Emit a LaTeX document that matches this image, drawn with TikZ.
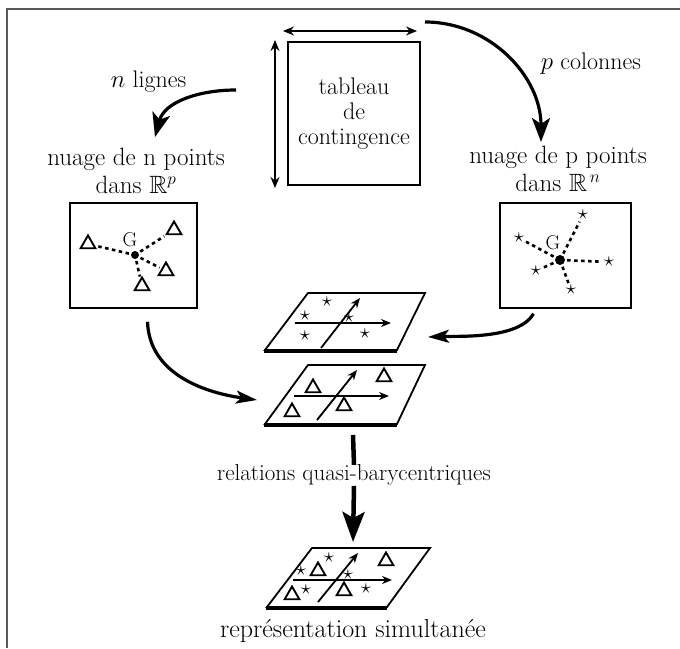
\documentclass[tikz,border=0pt]{standalone}
\usepackage{amsmath, amssymb}
\usepackage{tikz}
\usetikzlibrary{arrows.meta, shapes.geometric}
\definecolor{cadregris}{RGB}{90,90,90}

\begin{document}
\begin{tikzpicture}[x=1pt, y=1pt,
    texte/.style={inner sep=0pt, font=\fontsize{24}{25}\selectfont, align=center},
    boite/.style={draw, line width=1.6pt, inner sep=0pt},
    grandefleche/.style={line width=3.2pt, -{Stealth[length=24pt, width=18pt, inset=6pt]}},
    fleche/.style={line width=3.2pt, -{Stealth[length=21pt, width=13pt, inset=5pt]}},
    bifleche/.style={line width=1.5pt, {Stealth[length=11pt, width=9pt]}-{Stealth[length=11pt, width=9pt]}},
    axe/.style={line width=1.8pt, -{Stealth[length=10pt, width=8pt]}},
    plan/.style={line width=1.8pt, line join=miter},
    pointille/.style={line width=2.6pt, dash pattern=on 3.5pt off 3.5pt, shorten <=2pt, shorten >=2pt},
    delta/.style={draw, regular polygon, regular polygon sides=3, line width=1.9pt, inner sep=0pt, minimum size=17pt},
    etoile/.style={inner sep=0pt, font=\fontsize{20}{20}\selectfont},
    lettre/.style={inner sep=0pt, font=\fontsize{20}{20}\selectfont},
    centre/.style={circle, fill, inner sep=0pt, minimum size=8pt}]

    % Cadre
    \useasboundingbox (0,0) rectangle (680,648);
    \draw[cadregris, line width=1.3pt] (7,0) -- (7,639) -- (680,639);

    % Tableau de contingence
    \node[boite, texte, minimum width=132pt, minimum height=143pt] (tab) at (354,534.5) {tableau\\de\\contingence};
    \coordinate (hg) at (283,617);
    \coordinate (hd) at (417,617);
    \coordinate (vh) at (275,608);
    \coordinate (vb) at (275,460);
    \draw[bifleche] (hg) -- (hd);
    \draw[bifleche] (vh) -- (vb);

    % Lignes et colonnes
    \node[texte, anchor=base] (lignes) at (148.5,560) {$n$ lignes};
    \node[texte, anchor=base] (colonnes) at (591,578) {$p$ colonnes};
    \coordinate (depN) at (236,558);
    \coordinate (finN) at (155,511);
    \coordinate (depP) at (425,626);
    \coordinate (finP) at (541,506);
    \draw[grandefleche] (depN) to[out=180, in=75] (finN);
    \draw[grandefleche] (depP) to[out=0, in=90] (finP);

    % Nuages
    \node[texte, anchor=north, font=\fontsize{25}{28}\selectfont] (nuageN) at (136,500) {nuage de n points\\dans $\mathbb{R}^p$};
    \node[texte, anchor=north, font=\fontsize{25}{28}\selectfont] (nuageP) at (558,502) {nuage de p points\\dans $\mathbb{R}^{\,n}$};
    \node[boite, minimum width=127pt, minimum height=105pt] (boxN) at (133.5,392.5) {};
    \node[boite, minimum width=131pt, minimum height=105pt] (boxP) at (565.5,392.5) {};

    % Nuage des lignes
    \node[centre] (gN) at (135,393) {};
    \node[lettre] (GN) at (130,408) {G};
    \foreach \nom/\x/\y in {a/88/404, b/174/418, c/166/377, d/142/362}{
        \node[delta] (tN\nom) at (\x,\y) {};
        \draw[pointille] (gN) -- (tN\nom);
    }

    % Nuage des colonnes
    \node[centre, minimum size=10pt] (gP) at (560,388) {};
    \node[lettre] (GP) at (553,405) {G};
    \foreach \nom/\x/\y in {a/519/410, b/583/433, c/609/386, d/571/358, e/536/377}{
        \node[etoile] (eP\nom) at (\x,\y) {$\star$};
        \draw[pointille] (gP) -- (eP\nom);
    }

    % Plan des colonnes
    \draw[plan] (265,298) -- (308,355) -- (425,355) -- (397,298) -- cycle;
    \draw[line width=3.6pt] (264,297) -- (397,297);
    \draw[axe] (295,325) -- (391,325);
    \draw[axe] (321,300) -- (360,350);
    \foreach \x/\y in {327/346, 305/332, 305/312, 349/330, 365/314}
        \node[etoile] at (\x,\y) {$\star$};

    % Plan des lignes
    \draw[plan] (265,224) -- (308,283) -- (425,283) -- (397,224) -- cycle;
    \draw[line width=3.6pt] (264,223) -- (397,223);
    \draw[axe] (294,252) -- (389,252);
    \draw[axe] (317,228) -- (357,278);
    \foreach \x/\y in {313/260, 384/271, 292/236, 344/242}
        \node[delta] at (\x,\y) {};

    % Representation simultanee
    \draw[plan] (267,41) -- (312,100) -- (430,100) -- (387,41) -- cycle;
    \draw[line width=3.6pt] (266,40) -- (387,40);
    \draw[axe] (293,68) -- (392,68);
    \draw[axe] (318,46) -- (358,95);
    \foreach \x/\y in {301/77, 329/90, 348/73, 306/58, 366/59}
        \node[etoile] at (\x,\y) {$\star$};
    \foreach \x/\y in {318/77, 386/87, 292/53, 344/57}
        \node[delta] at (\x,\y) {};

    % Liaisons vers les plans
    \coordinate (entreeT) at (257,248);
    \coordinate (entreeS) at (428,311);
    \coordinate (sortieT) at (353,213);
    \coordinate (entreeR) at (353,106);
    \draw[fleche] ([xshift=14pt, yshift=-13pt]boxN.south) to[out=-88, in=172] (entreeT);
    \draw[fleche] ([xshift=-32pt, yshift=-5pt]boxP.south) to[out=-120, in=2, looseness=0.7] (entreeS);

    % Relations quasi-barycentriques
    \node[texte, anchor=base, font=\fontsize{23}{24}\selectfont] (relations) at (354,167) {relations quasi-barycentriques};
    \draw[line width=4.5pt] (sortieT) -- (relations.north);
    \draw[line width=4.5pt, -{Stealth[length=30pt, width=22pt, inset=6pt]}] (relations.south) -- (entreeR);
    \node[texte, anchor=base, font=\fontsize{26}{27}\selectfont] (simultanee) at (353,11) {représentation simultanée};
\end{tikzpicture}
\end{document}
